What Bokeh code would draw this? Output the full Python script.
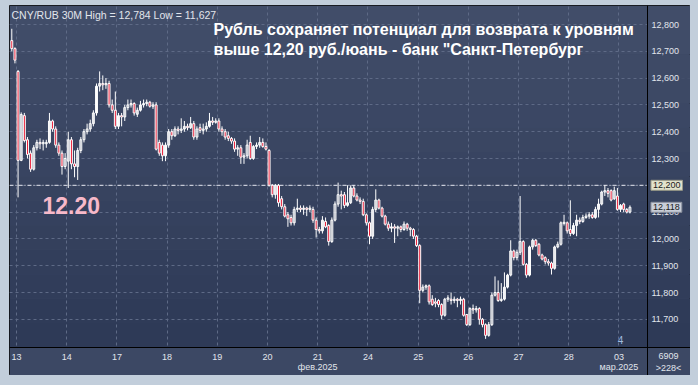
import numpy as np
from bokeh.plotting import figure
from bokeh.models import ColumnDataSource, Range1d, FixedTicker, Label, Span, BoxAnnotation
from bokeh.embed import file_html
from bokeh.resources import INLINE

# ---------------- data ----------------
title_line1 = "Рубль сохраняет потенциал для возврата к уровням"
title_line2 = "выше 12,20 руб./юань - банк \"Санкт-Петербург"
info_text = "CNY/RUB 30M  High = 12,784 Low = 11,627"
level_value = 12.20
level_text = "12.20"
last_price = 12.118
tag_level = "12,200"
tag_last = "12,118"
bars_total = "6909"
bars_visible = ">228<"

candles_per_day = 16
first_offset = -2  # two candles of 12 Feb before the 13 Feb session
day_labels = ["13", "14", "17", "18", "19", "20", "21\nфев.2025", "24", "25", "26", "27", "28", "03\nмар.2025"]
y_ticks = [11.7, 11.8, 11.9, 12.0, 12.1, 12.2, 12.3, 12.4, 12.5, 12.6, 12.7, 12.8]
y_tick_labels = ["11,700", "11,800", "11,900", "12,000", "12,100", "12,200",
                 "12,300", "12,400", "12,500", "12,600", "12,700", "12,800"]

open_ = [
    12.740, 12.710,
    # 13
    12.625, 12.293, 12.460, 12.370, 12.320, 12.260, 12.340, 12.360, 12.355, 12.355, 12.360, 12.440, 12.410, 12.350, 12.320, 12.270,
    # 14
    12.290, 12.370, 12.280, 12.270, 12.330, 12.370, 12.400, 12.410, 12.430, 12.470, 12.570, 12.580, 12.575, 12.580, 12.500, 12.480,
    # 17
    12.420, 12.460, 12.455, 12.490, 12.500, 12.505, 12.465, 12.480, 12.500, 12.505, 12.510, 12.495, 12.500, 12.360, 12.350, 12.310,
    # 18
    12.350, 12.400, 12.385, 12.410, 12.405, 12.410, 12.420, 12.415, 12.430, 12.380, 12.415, 12.405, 12.410, 12.420, 12.440, 12.435,
    # 19
    12.440, 12.410, 12.400, 12.385, 12.375, 12.365, 12.335, 12.340, 12.305, 12.310, 12.360, 12.300, 12.345, 12.350, 12.360, 12.345,
    # 20
    12.330, 12.200, 12.165, 12.200, 12.150, 12.120, 12.090, 12.080, 12.060, 12.110, 12.115, 12.110, 12.115, 12.110, 12.110, 12.070,
    # 21
    12.035, 12.030, 12.065, 12.050, 11.990, 12.070, 12.130, 12.165, 12.165, 12.125, 12.135, 12.190, 12.160, 12.145, 12.140, 12.090,
    # 24
    12.060, 12.010, 12.110, 12.145, 12.115, 12.085, 12.055, 12.040, 12.045, 12.040, 12.045, 12.035, 12.055, 12.040, 12.035, 12.010,
    # 25
    11.975, 11.808, 11.820, 11.825, 11.775, 11.765, 11.770, 11.755, 11.715, 11.775, 11.775, 11.770, 11.775, 11.770, 11.775, 11.718,
    # 26
    11.680, 11.740, 11.735, 11.740, 11.700, 11.680, 11.640, 11.680, 11.790, 11.800, 11.770, 11.775, 11.820, 11.865, 11.955, 11.930,
    # 27
    11.950, 11.990, 11.905, 11.865, 11.970, 11.995, 11.980, 11.940, 11.930, 11.915, 11.910, 11.890, 11.970, 11.980, 12.058, 12.060,
    # 28
    12.035, 12.020, 12.050, 12.070, 12.065, 12.080, 12.085, 12.090, 12.080, 12.110, 12.130, 12.175, 12.180, 12.180, 12.150, 12.160,
    # 03
    12.110, 12.130, 12.110, 12.100,
]
high = [
    12.784, 12.715,
    12.630, 12.472, 12.470, 12.380, 12.330, 12.350, 12.370, 12.375, 12.370, 12.370, 12.470, 12.445, 12.420, 12.360, 12.330, 12.320,
    12.400, 12.380, 12.330, 12.340, 12.380, 12.410, 12.430, 12.445, 12.480, 12.580, 12.625, 12.610, 12.600, 12.590, 12.520, 12.550,
    12.470, 12.470, 12.500, 12.520, 12.520, 12.510, 12.490, 12.515, 12.520, 12.520, 12.515, 12.510, 12.510, 12.370, 12.360, 12.360,
    12.410, 12.410, 12.420, 12.420, 12.450, 12.440, 12.430, 12.455, 12.440, 12.420, 12.430, 12.430, 12.435, 12.470, 12.455, 12.450,
    12.450, 12.420, 12.410, 12.400, 12.380, 12.375, 12.350, 12.350, 12.320, 12.370, 12.385, 12.350, 12.360, 12.380, 12.375, 12.360,
    12.335, 12.205, 12.205, 12.205, 12.160, 12.130, 12.100, 12.090, 12.120, 12.150, 12.125, 12.125, 12.120, 12.125, 12.120, 12.080,
    12.045, 12.085, 12.080, 12.055, 12.080, 12.140, 12.210, 12.180, 12.175, 12.200, 12.200, 12.200, 12.170, 12.155, 12.150, 12.095,
    12.065, 12.120, 12.185, 12.150, 12.120, 12.090, 12.065, 12.060, 12.055, 12.050, 12.050, 12.065, 12.060, 12.045, 12.040, 12.015,
    11.980, 11.830, 11.830, 11.830, 11.790, 11.780, 11.775, 11.760, 11.780, 11.790, 11.800, 11.785, 11.780, 11.785, 11.780, 11.720,
    11.745, 11.755, 11.750, 11.745, 11.705, 11.685, 11.690, 11.800, 11.860, 11.845, 11.835, 11.875, 11.870, 11.995, 11.960, 11.960,
    12.160, 11.995, 11.910, 11.975, 12.000, 12.000, 11.985, 11.945, 11.935, 11.925, 11.915, 11.975, 11.990, 12.065, 12.090, 12.065,
    12.144, 12.060, 12.090, 12.080, 12.090, 12.095, 12.100, 12.100, 12.120, 12.150, 12.180, 12.200, 12.190, 12.185, 12.195, 12.190,
    12.130, 12.135, 12.115, 12.125,
]
low = [
    12.700, 12.655,
    12.155, 12.290, 12.360, 12.300, 12.250, 12.255, 12.330, 12.335, 12.330, 12.340, 12.355, 12.400, 12.340, 12.310, 12.240, 12.260,
    12.190, 12.260, 12.230, 12.220, 12.320, 12.360, 12.390, 12.400, 12.420, 12.460, 12.550, 12.555, 12.560, 12.490, 12.470, 12.410,
    12.410, 12.420, 12.440, 12.480, 12.490, 12.460, 12.455, 12.475, 12.490, 12.495, 12.490, 12.485, 12.330, 12.310, 12.290, 12.290,
    12.340, 12.370, 12.380, 12.390, 12.395, 12.400, 12.405, 12.410, 12.370, 12.370, 12.395, 12.390, 12.400, 12.415, 12.425, 12.430,
    12.400, 12.385, 12.370, 12.365, 12.355, 12.325, 12.310, 12.280, 12.280, 12.300, 12.295, 12.295, 12.335, 12.340, 12.340, 12.330,
    12.195, 12.155, 12.150, 12.120, 12.110, 12.080, 12.045, 12.050, 12.050, 12.100, 12.100, 12.090, 12.085, 12.100, 12.060, 12.005,
    12.020, 12.020, 12.040, 11.975, 11.985, 12.065, 12.120, 12.110, 12.115, 12.120, 12.130, 12.155, 12.140, 12.130, 12.085, 12.050,
    11.980, 12.000, 12.100, 12.110, 12.080, 12.050, 12.030, 12.025, 11.985, 12.010, 12.025, 12.030, 12.030, 12.010, 12.000, 11.970,
    11.760, 11.800, 11.810, 11.755, 11.750, 11.745, 11.745, 11.700, 11.710, 11.765, 11.755, 11.760, 11.745, 11.755, 11.710, 11.675,
    11.675, 11.720, 11.725, 11.680, 11.670, 11.627, 11.635, 11.675, 11.785, 11.765, 11.765, 11.770, 11.815, 11.860, 11.920, 11.920,
    11.940, 11.900, 11.855, 11.860, 11.960, 11.970, 11.935, 11.920, 11.905, 11.900, 11.867, 11.885, 11.965, 11.975, 12.050, 12.020,
    12.010, 12.015, 12.010, 12.055, 12.060, 12.075, 12.075, 12.075, 12.075, 12.080, 12.125, 12.160, 12.155, 12.140, 12.145, 12.105,
    12.100, 12.100, 12.095, 12.095,
]
close = [
    12.710, 12.667,
    12.293, 12.464, 12.367, 12.315, 12.260, 12.340, 12.360, 12.355, 12.360, 12.360, 12.440, 12.410, 12.350, 12.320, 12.270, 12.300,
    12.370, 12.280, 12.270, 12.330, 12.370, 12.400, 12.410, 12.430, 12.470, 12.570, 12.580, 12.575, 12.580, 12.500, 12.480, 12.420,
    12.460, 12.455, 12.490, 12.500, 12.505, 12.470, 12.480, 12.500, 12.505, 12.510, 12.495, 12.500, 12.335, 12.320, 12.310, 12.350,
    12.400, 12.385, 12.410, 12.405, 12.410, 12.420, 12.415, 12.430, 12.380, 12.410, 12.405, 12.410, 12.420, 12.440, 12.435, 12.440,
    12.410, 12.400, 12.380, 12.375, 12.365, 12.335, 12.340, 12.305, 12.310, 12.350, 12.300, 12.345, 12.350, 12.360, 12.345, 12.335,
    12.200, 12.165, 12.200, 12.135, 12.120, 12.085, 12.075, 12.060, 12.110, 12.115, 12.110, 12.115, 12.110, 12.115, 12.070, 12.035,
    12.030, 12.070, 12.045, 11.990, 12.070, 12.130, 12.165, 12.160, 12.125, 12.135, 12.190, 12.160, 12.145, 12.140, 12.090, 12.060,
    12.010, 12.110, 12.145, 12.115, 12.085, 12.055, 12.040, 12.045, 12.040, 12.045, 12.035, 12.055, 12.040, 12.035, 12.010, 11.975,
    11.808, 11.820, 11.825, 11.765, 11.755, 11.760, 11.755, 11.715, 11.775, 11.780, 11.770, 11.775, 11.770, 11.775, 11.715, 11.680,
    11.740, 11.735, 11.740, 11.700, 11.680, 11.640, 11.680, 11.790, 11.800, 11.770, 11.775, 11.820, 11.865, 11.955, 11.930, 11.950,
    11.990, 11.905, 11.865, 11.970, 11.995, 11.975, 11.940, 11.925, 11.915, 11.910, 11.890, 11.970, 11.980, 12.060, 12.062, 12.030,
    12.020, 12.050, 12.070, 12.065, 12.080, 12.085, 12.090, 12.080, 12.110, 12.130, 12.175, 12.180, 12.170, 12.145, 12.180, 12.110,
    12.125, 12.110, 12.100, 12.118,
]

# ---------------- layout / styles ----------------
FRAME_LIGHT = "#c2cedb"
PANEL_BOTTOM = "#3c4864"
GRAD_TOP = (0x42, 0x4e, 0x6a)
GRAD_BOT = (0x2d, 0x39, 0x56)
UP_LINE = "#ffffff"
DOWN_FILL = "#e8112d"
TEXT_LIGHT = "#e1e5ec"
FONT = "Liberation Sans"

X_START, X_PLOT_END, X_END = -2.23, 201.1, 214.8      # plot area ends where the price scale begins
Y_START, Y_PLOT_START, Y_END = 11.4903, 11.5948, 12.8709  # plot area starts above the date scale

n = len(close)
x = [i + first_offset + 0.5 for i in range(n)]
up = [c >= o for o, c in zip(open_, close)]

def subset(mask):
    idx = [i for i in range(n) if mask[i]]
    return ColumnDataSource(dict(
        x=[x[i] for i in idx],
        top=[max(open_[i], close[i]) for i in idx],
        bottom=[min(open_[i], close[i]) for i in idx],
    ))

src_up = subset(up)
src_dn = subset([not u for u in up])
src_all = ColumnDataSource(dict(x=x, high=high, low=low))

x_ticks = [d * candles_per_day for d in range(len(day_labels))]

p = figure(width=681, height=370,
           x_range=Range1d(X_START, X_END), y_range=Range1d(Y_START, Y_END),
           y_axis_location="right", output_backend="svg", toolbar_location=None,
           min_border_left=0, min_border_top=0, min_border_right=0, min_border_bottom=0,
           background_fill_color=PANEL_BOTTOM, border_fill_color=PANEL_BOTTOM,
           outline_line_color="#0c0c0c", outline_line_width=1)
p.styles = {"margin-left": "9px", "margin-top": "5px",
            "box-shadow": "0 0 0 40px " + FRAME_LIGHT}

def grad_color(t):
    return "#%02x%02x%02x" % tuple(int(round(GRAD_BOT[j] + (GRAD_TOP[j] - GRAD_BOT[j]) * t)) for j in range(3))

# background gradient (decoration): plot area below the grid
nb = 14
for k in range(nb):
    b = Y_PLOT_START + (Y_END - Y_PLOT_START) * k / nb
    tp = Y_PLOT_START + (Y_END - Y_PLOT_START) * (k + 1) / nb
    p.add_layout(BoxAnnotation(bottom=b, top=tp, right=X_PLOT_END, fill_color=grad_color((k + 0.5) / nb),
                               fill_alpha=1.0, line_color=None, level="image"))

# grid
p.xgrid.ticker = FixedTicker(ticks=x_ticks)
p.ygrid.ticker = FixedTicker(ticks=y_ticks)
for g in (p.xgrid[0], p.ygrid[0]):
    g.grid_line_color = "#5e6a86"
    g.grid_line_dash = "3 3"
    g.grid_line_width = 1

# level line
p.add_layout(Span(location=level_value, dimension="width", line_color="#e4e7ee",
                  line_dash="4 2 1 2", line_width=1, level="underlay"))

# scale panels drawn over the grid
for k in range(nb):
    b = Y_PLOT_START + (Y_END - Y_PLOT_START) * k / nb
    tp = Y_PLOT_START + (Y_END - Y_PLOT_START) * (k + 1) / nb
    p.add_layout(BoxAnnotation(bottom=b, top=tp, left=X_PLOT_END, fill_color=grad_color((k + 0.5) / nb),
                               fill_alpha=1.0, line_color=None, level="underlay"))
p.add_layout(BoxAnnotation(top=Y_PLOT_START, fill_color=PANEL_BOTTOM, fill_alpha=1.0,
                           line_color=None, level="underlay"))

# axes (fixed at the edges of the plot area)
xa = p.xaxis[0]
xa.fixed_location = Y_PLOT_START
xa.ticker = FixedTicker(ticks=x_ticks)
xa.major_label_overrides = {t: lab for t, lab in zip(x_ticks, day_labels)}
xa.major_tick_line_color = None
xa.minor_tick_line_color = None
xa.major_tick_out = 0
xa.major_tick_in = 0
xa.minor_tick_out = 0
xa.axis_line_color = "#000000"
xa.major_label_standoff = 5
xa.major_label_text_font = FONT
xa.major_label_text_font_size = "9px"
xa.major_label_text_color = TEXT_LIGHT
xa.major_label_text_line_height = 1.0

ya = p.yaxis[0]
ya.fixed_location = X_PLOT_END
ya.ticker = FixedTicker(ticks=y_ticks)
ya.major_label_overrides = {t: lab for t, lab in zip(y_ticks, y_tick_labels)}
ya.major_tick_line_color = None
ya.minor_tick_line_color = None
ya.major_tick_out = 0
ya.major_tick_in = 0
ya.minor_tick_out = 0
ya.axis_line_color = "#000000"
ya.major_label_standoff = 4
ya.major_label_text_font = FONT
ya.major_label_text_font_size = "9px"
ya.major_label_text_color = TEXT_LIGHT

# candles
p.segment(x0="x", y0="high", x1="x", y1="low", source=src_all, line_color=UP_LINE, line_width=1)
p.vbar(x="x", top="top", bottom="bottom", width=0.62, source=src_up,
       fill_color=None, line_color=UP_LINE, line_width=1)
p.vbar(x="x", top="top", bottom="bottom", width=0.62, source=src_dn,
       fill_color=DOWN_FILL, line_color=UP_LINE, line_width=1)

# texts
p.add_layout(Label(x=-1.6, y=12.8336, text=info_text, text_font=FONT, text_font_size="10.5px",
                   text_color=TEXT_LIGHT, text_baseline="alphabetic"))
p.add_layout(Label(x=62.8, y=12.7799, text=title_line1, text_font=FONT, text_font_size="16px",
                   text_font_style="bold", text_color="#ffffff", text_baseline="alphabetic"))
p.add_layout(Label(x=62.8, y=12.7052, text=title_line2, text_font=FONT, text_font_size="16px",
                   text_font_style="bold", text_color="#ffffff", text_baseline="alphabetic"))
p.add_layout(Label(x=8.3, y=12.1246, text=level_text, text_font=FONT, text_font_size="23px",
                   text_font_style="bold", text_color="#f7b9c9", text_baseline="alphabetic"))

# price tags on the right scale
p.add_layout(Label(x=202.2, y=level_value, text=tag_level, text_font=FONT,
                   text_font_size="9px", text_color="#1a1a1a", text_baseline="middle",
                   background_fill_color="#e2e2cc", border_line_color="#9a9a88", padding=2))
p.add_layout(Label(x=202.2, y=last_price, text=tag_last, text_font=FONT,
                   text_font_size="9px", text_color="#1a1a1a", text_baseline="middle",
                   background_fill_color="#c9ced8", border_line_color="#8a909c", padding=2))
p.add_layout(Label(x=207.8, y=11.5649, text=bars_total, text_font=FONT, text_font_size="9px",
                   text_color=TEXT_LIGHT, text_baseline="middle", text_align="center"))
p.add_layout(Label(x=207.8, y=11.5200, text=bars_visible, text_font=FONT, text_font_size="9px",
                   text_color=TEXT_LIGHT, text_baseline="middle", text_align="center"))
p.add_layout(Label(x=192.5, y=11.621, text="4", text_font=FONT, text_font_size="10px",
                   text_color="#a3bde0", text_baseline="middle", text_align="center"))

open("out.html", "w").write(file_html(p, INLINE))
